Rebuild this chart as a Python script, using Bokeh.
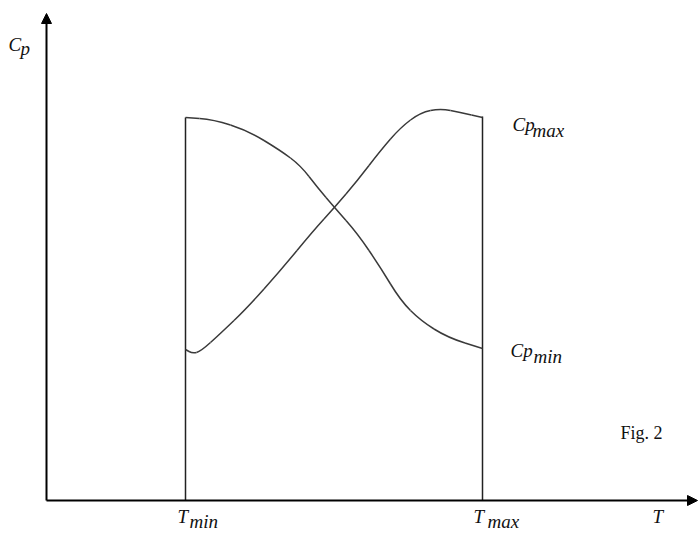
from bokeh.plotting import figure
from bokeh.models import Range1d, Arrow, NormalHead
from bokeh.core.properties import value
from bokeh.embed import file_html
from bokeh.resources import INLINE

# ---- data (T and Cp in arbitrary schematic units) ----
T_MIN = 139
T_MAX = 436
T_AXIS_END = 651
CP_AXIS_END = 487

# curve rising from Cp_min (at T_min) to Cp_max (at T_max)
t_rise = [139, 146, 154, 174, 201, 234, 267, 288, 311, 334, 354, 374, 394, 414, 436]
cp_rise = [151, 147, 149, 167, 193, 230, 270, 293, 320, 350, 373, 388, 392, 388, 383]

# curve falling from Cp_max (at T_min) to Cp_min (at T_max)
t_fall = [139, 167, 201, 234, 254, 271, 288, 311, 334, 354, 374, 401, 436]
cp_fall = [383, 381, 370, 350, 335, 313, 293, 267, 233, 200, 180, 163, 152]

bound_T = [T_MIN, T_MAX]
bound_top = [383, 384]

FONT = "Liberation Serif"

p = figure(width=699, height=533, output_backend="svg", toolbar_location=None,
           x_range=Range1d(-46, 653), y_range=Range1d(-33, 500),
           x_axis_type=None, y_axis_type=None, min_border=0)
p.grid.visible = False
p.outline_line_color = None
p.background_fill_color = "white"
p.border_fill_color = "white"

# axes with arrowheads
p.add_layout(Arrow(end=NormalHead(size=10, fill_color="black", line_color="black"),
                   x_start=0, y_start=0, x_end=0, y_end=CP_AXIS_END,
                   line_width=2, line_color="black"))
p.add_layout(Arrow(end=NormalHead(size=10, fill_color="black", line_color="black"),
                   x_start=0, y_start=0, x_end=T_AXIS_END, y_end=0,
                   line_width=2, line_color="black"))

# boundary verticals at T_min and T_max
p.segment(x0=bound_T, y0=[0, 0], x1=bound_T, y1=bound_top,
          line_color="#222222", line_width=1.5)


def smooth_curve(xs, ys, color):
    """Draw a smooth curve through the read points using midpoint quadratics."""
    mx = [(xs[i] + xs[i + 1]) / 2 for i in range(len(xs) - 1)]
    my = [(ys[i] + ys[i + 1]) / 2 for i in range(len(ys) - 1)]
    p.line([xs[0], mx[0]], [ys[0], my[0]], line_color=color, line_width=1.5)
    p.line([mx[-1], xs[-1]], [my[-1], ys[-1]], line_color=color, line_width=1.5)
    p.quadratic(x0=mx[:-1], y0=my[:-1], x1=mx[1:], y1=my[1:],
                cx=xs[1:-1], cy=ys[1:-1], line_color=color, line_width=1.5)


smooth_curve(t_rise, cp_rise, "#3a3a3a")
smooth_curve(t_fall, cp_fall, "#3a3a3a")


def label(x, y, txt, size="19px", italic=True):
    p.text(x=[x], y=[y], text=[txt], text_font=value(FONT),
           text_font_style="italic" if italic else "normal",
           text_font_size=size, text_color="#111111",
           text_align="left", text_baseline="alphabetic")


# y-axis label C_p
label(-38, 456, "C")
label(-26, 452, "p")
# Cp_max / Cp_min
label(466, 376, "Cp")
label(486, 370, "max")
label(464, 150, "Cp")
label(487, 144, "min")
# T labels
label(131, -16, "T")
label(143, -21, "min")
label(427, -16, "T")
label(441, -21, "max")
label(606, -16, "T")
# figure caption
label(574, 68, "Fig. 2", size="18px", italic=False)

open("out.html", "w").write(file_html(p, INLINE))
